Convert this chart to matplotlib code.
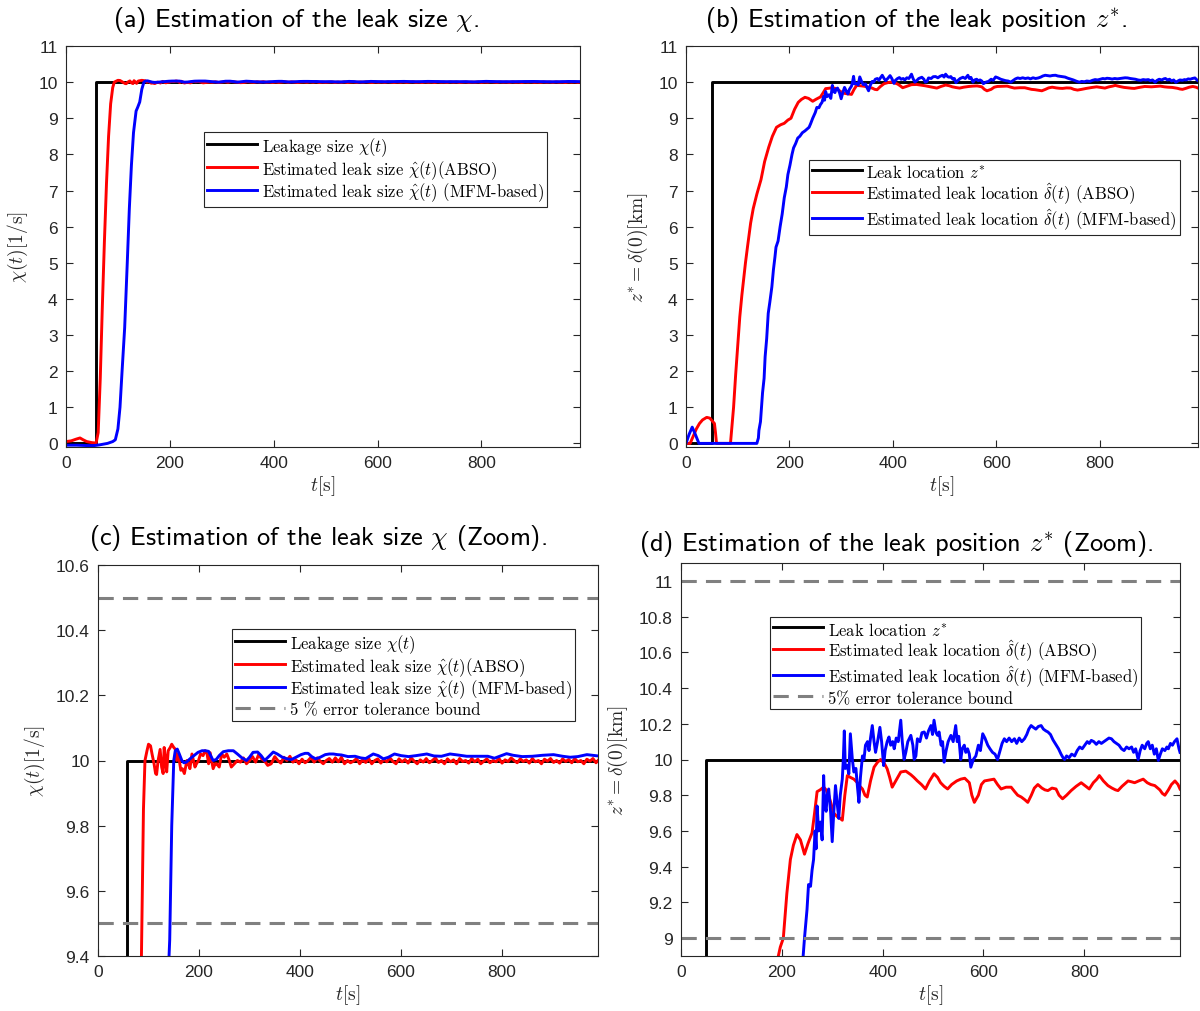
import matplotlib
matplotlib.use("Agg")
import matplotlib.pyplot as plt
from matplotlib.ticker import FuncFormatter

plt.rcParams['font.family'] = ['Liberation Sans', 'DejaVu Sans']
plt.rcParams['mathtext.fontset'] = 'cm'
plt.rcParams['axes.unicode_minus'] = False

# ---------------- data: leak size chi ----------------
t_chi_true = [0, 58, 990]
chi_true = [0, 10, 10]

t_chi_abso = [0, 10, 20, 27, 33, 40, 50, 58, 62, 66, 70, 74, 78, 82, 86, 90, 93, 97, 100, 104,
              107, 111, 114, 116, 119, 123, 126, 129, 131, 134, 136, 139, 143, 146, 150, 153, 156,
              159, 162, 164, 167, 171, 174, 176, 179, 182, 186, 189, 192, 195, 199, 203, 208, 212,
              216, 219, 222, 225, 228, 232, 235, 240, 245, 250, 255, 260, 264, 270, 276, 282, 288,
              294, 300, 306, 312, 318, 324, 330, 336, 343, 350, 356, 362, 368, 374, 380, 386, 392,
              398, 404, 410, 416, 422, 428, 434, 440, 446, 452, 458, 464, 470, 476, 482, 488, 494,
              500, 506, 512, 518, 524, 530, 536, 542, 548, 554, 560, 566, 572, 578, 584, 590, 596,
              602, 608, 614, 620, 626, 632, 638, 644, 650, 656, 662, 668, 674, 680, 686, 692, 698,
              704, 710, 716, 722, 728, 734, 740, 746, 752, 758, 764, 770, 776, 782, 788, 794, 800,
              806, 812, 818, 824, 830, 836, 842, 848, 854, 860, 866, 872, 878, 884, 890, 896, 902,
              908, 914, 920, 926, 932, 938, 944, 950, 956, 962, 968, 974, 980, 986, 990]
chi_abso = [0.05, 0.07, 0.12, 0.15, 0.10, 0.05, 0.02, 0.01, 0.3, 1.8, 3.8, 5.6, 7.2, 8.5, 9.4, 9.85,
            10.0, 10.03, 10.05, 10.045, 10.02, 9.99, 9.96, 9.957, 10.0, 10.034, 9.98, 9.96, 10.04,
            10.0, 9.965, 10.03, 10.04, 10.05, 10.04, 10.035, 10.0, 10.02, 9.99, 9.97, 9.975, 9.96,
            9.985, 10.0, 9.99, 9.975, 10.02, 10.0, 9.98, 9.99, 10.0, 10.02, 10.015, 10.03, 10.02,
            9.99, 10.024, 10.0, 9.975, 9.99, 9.99, 9.98, 10.02, 10.01, 10.02, 10.0, 9.98, 9.99,
            10.0, 9.995, 10.008, 9.99, 10.0, 10.012, 9.995, 10.018, 10.005, 9.998, 9.985, 9.99,
            10.012, 10.0, 9.992, 10.01, 10.0, 10.013, 9.995, 10.002, 9.99, 10.004, 9.993, 10.0,
            10.01, 9.995, 10.008, 9.998, 9.99, 10.0, 10.006, 9.995, 10.008, 9.996, 10.01, 9.99,
            10.0, 9.993, 9.998, 10.006, 9.99, 10.002, 9.994, 10.006, 9.99, 10.0, 10.005, 9.992,
            10.004, 9.996, 10.008, 9.997, 9.99, 10.005, 9.996, 10.003, 9.992, 10.008, 9.998, 9.99,
            10.002, 9.995, 10.006, 9.993, 10.0, 10.008, 9.994, 10.0, 9.99, 10.005, 9.996, 10.002,
            9.99, 10.006, 9.997, 10.0, 9.992, 10.006, 9.996, 10.004, 9.99, 9.998, 10.005, 9.993,
            10.0, 9.996, 10.006, 9.992, 10.002, 9.997, 10.008, 10.0, 9.993, 10.005, 9.997, 10.002,
            9.992, 10.006, 9.996, 10.0, 9.99, 10.004, 9.998, 10.006, 9.994, 10.0, 9.992, 10.005,
            9.997, 10.003, 9.993, 10.006, 9.996, 10.0, 9.99, 10.004, 9.998, 10.006, 9.993, 10.0]

t_chi_mfm = [0, 20, 40, 55, 65, 80, 90, 95, 100, 104, 108, 113, 118, 122, 126, 130, 135, 138, 142,
             146, 150, 153, 157, 161, 166, 170, 175, 182, 190, 198, 206, 213, 219, 224, 228, 234, 240,
             248, 258, 268, 276, 285, 294, 300, 307, 316, 323, 330, 338, 347, 355, 365, 375, 383,
             392, 402, 410, 416, 423, 431, 440, 450, 458, 466, 474, 482, 495, 509, 520, 530, 545,
             555, 565, 575, 587, 600, 615, 630, 651, 665, 680, 697, 712, 730, 750, 772, 785, 797,
             809, 822, 840, 860, 880, 902, 920, 935, 950, 968, 990]
chi_mfm = [-0.05, -0.05, -0.06, -0.06, -0.04, 0.0, 0.05, 0.1, 0.4, 1.0, 2.0, 3.2, 5.0, 6.5, 7.7, 8.6,
           9.2, 9.3, 9.45, 9.8, 10.0, 10.03, 10.035, 10.02, 10.0, 9.993, 9.995, 10.005, 10.015, 10.025,
           10.03, 10.03, 10.028, 10.012, 10.0, 10.003, 10.015, 10.027, 10.03, 10.03, 10.02, 10.008,
           10.0, 10.01, 10.025, 10.026, 10.015, 10.0, 10.012, 10.026, 10.02, 10.01, 10.005, 10.003,
           10.01, 10.018, 10.022, 10.022, 10.012, 10.005, 10.01, 10.018, 10.02, 10.02, 10.018,
           10.017, 10.012, 10.013, 10.008, 10.006, 10.02, 10.015, 10.005, 10.01, 10.02, 10.015,
           10.012, 10.015, 10.02, 10.014, 10.013, 10.02, 10.017, 10.013, 10.013, 10.013, 10.007,
           10.014, 10.021, 10.016, 10.012, 10.013, 10.016, 10.018, 10.013, 10.01, 10.012, 10.018,
           10.014]

chi_bounds = [10.5, 9.5]

# ---------------- data: leak position z* ----------------
t_z_true = [0, 50, 990]
z_true = [0, 10, 10]

t_z_abso = [0, 8, 14, 20, 26, 32, 40, 46, 52, 55, 57, 59, 86, 89, 92, 96, 100, 104, 108, 115, 119,
            125, 130, 137, 145, 152, 160, 167, 175, 183, 190, 197, 203, 210, 217, 223, 230, 237, 245,
            252, 260, 265, 270, 276, 283, 288, 293, 298, 303, 310, 316, 320, 325, 330, 336, 343, 350,
            355, 360, 365, 369.5, 376, 383, 390, 396, 403, 409, 414, 419, 426, 436, 446, 456, 462,
            469, 477, 485, 493, 502, 509, 515, 522, 529, 537, 547, 555, 563, 572, 577, 582, 590, 596,
            602, 612, 621, 628, 635, 645, 655, 662, 668, 675, 682, 688, 695, 701, 708, 716, 722, 728,
            736, 744, 750, 757, 765, 774, 784, 794, 803, 810, 818, 825, 830, 838, 847, 855, 862, 867,
            875, 887, 894, 900, 908, 917, 925, 932, 940, 950, 955, 960, 967, 973, 980, 986, 990]
z_abso = [0.0, 0.0, 0.2, 0.4, 0.55, 0.65, 0.72, 0.7, 0.6, 0.55, 0.3, 0.0, 0.0, 0.5, 1.0, 1.9, 2.7, 3.5,
          4.1, 5.0, 5.45, 6.1, 6.5, 6.9, 7.3, 7.8, 8.2, 8.5, 8.75, 8.82, 8.86, 8.95, 9.0, 9.25, 9.44,
          9.52, 9.58, 9.55, 9.47, 9.53, 9.59, 9.7, 9.82, 9.83, 9.845, 9.83, 9.80, 9.75, 9.70, 9.68,
          9.67, 9.66, 9.8, 9.91, 9.9, 9.89, 9.87, 9.85, 9.835, 9.8, 9.79, 9.88, 9.957, 9.985, 10.0,
          9.98, 9.948, 9.9, 9.845, 9.88, 9.93, 9.935, 9.915, 9.9, 9.88, 9.86, 9.835, 9.88, 9.92, 9.9,
          9.87, 9.85, 9.835, 9.86, 9.88, 9.89, 9.895, 9.87, 9.80, 9.76, 9.8, 9.86, 9.88, 9.885, 9.89,
          9.86, 9.835, 9.845, 9.845, 9.82, 9.80, 9.79, 9.775, 9.76, 9.80, 9.84, 9.86, 9.84, 9.83,
          9.826, 9.84, 9.835, 9.80, 9.78, 9.80, 9.826, 9.85, 9.87, 9.85, 9.835, 9.87, 9.89, 9.91,
          9.88, 9.854, 9.84, 9.83, 9.826, 9.85, 9.88, 9.875, 9.87, 9.88, 9.89, 9.87, 9.86, 9.854,
          9.83, 9.81, 9.80, 9.83, 9.86, 9.88, 9.86, 9.835]

t_z_mfm = [0, 6, 12, 18, 25, 137, 140, 141, 144, 148, 151, 153, 156, 159, 162, 166, 169, 172, 174, 178,
           182, 186, 190, 194, 197, 201, 205, 208, 212, 216, 220, 225, 230, 234, 238, 241, 245, 250,
           253, 257, 260, 263, 266, 268, 270, 273, 276.6, 280, 283, 285, 288, 290, 293, 297, 300, 303,
           306.5, 310, 313, 316, 320, 322, 324, 326, 330, 333, 336, 340, 343, 347, 350, 353, 356, 360,
           363, 366, 370, 373, 376, 379.5, 383, 386, 390, 394.6, 398, 402, 405, 409, 412.6, 416, 420,
           423, 427, 431, 436, 439, 442.6, 446, 450, 456, 460, 462.6, 466, 469, 474, 478, 482.6, 487,
           491, 495.8, 499, 502, 506, 509, 512, 516, 519, 522, 526, 530, 535.5, 540, 545, 548, 551,
           555, 558, 562, 565, 568.6, 572, 575, 580, 585, 590, 594, 598.6, 603, 608.6, 613, 618, 623,
           628, 633, 637, 641.5, 646, 651, 656, 661.5, 666, 671, 676, 681.4, 686, 690, 694.6, 699,
           704, 709, 714.5, 719, 724, 728, 733, 738, 744.5, 749, 754, 758, 761, 765, 770, 775, 781,
           786, 791, 796, 801, 806, 810, 814, 819, 824, 829, 834, 839, 844, 849, 854, 859, 864, 869,
           874, 879, 884, 889, 894, 898, 902, 907, 911, 915, 920, 924, 927, 931, 935, 939, 943, 947,
           951, 955, 960, 964, 967, 971, 975, 979, 984, 988, 990]
z_mfm = [0.0, 0.25, 0.45, 0.25, 0.0, 0.0, 0.15, 0.36, 0.6, 1.4, 1.8, 2.4, 2.9, 3.6, 3.9, 4.33, 4.8,
         5.16, 5.43, 5.6, 6.0, 6.35, 6.8, 7.1, 7.44, 7.7, 8.0, 8.18, 8.3, 8.45, 8.5, 8.6, 8.65, 8.7,
         8.75, 8.85, 9.0, 9.16, 9.3, 9.29, 9.38, 9.44, 9.6, 9.5, 9.74, 9.6, 9.65, 9.55, 9.91, 9.75,
         9.71, 9.8, 9.835, 9.7, 9.54, 9.7, 9.854, 9.75, 9.67, 9.8, 9.89, 10.0, 10.16, 9.95, 9.966,
         9.92, 10.144, 10.0, 9.93, 9.95, 9.85, 9.76, 9.9, 10.02, 10.0, 10.08, 10.1, 10.05, 10.12,
         10.19, 10.1, 10.04, 10.1, 10.18, 10.1, 9.966, 10.05, 10.1, 10.126, 10.08, 10.1, 10.06,
         10.12, 10.1, 10.22, 10.1, 10.0, 10.04, 10.1, 10.135, 10.08, 10.0, 10.02, 10.116, 10.1,
         10.15, 10.154, 10.12, 10.16, 10.19, 10.14, 10.22, 10.15, 10.135, 10.154, 10.08, 10.1,
         9.985, 10.05, 10.1, 10.135, 10.1, 10.19, 10.1, 10.13, 10.0, 10.06, 10.08, 10.04, 10.06,
         10.03, 9.957, 10.0, 10.02, 10.08, 10.05, 10.144, 10.12, 10.08, 10.06, 10.04, 10.03, 10.0,
         10.05, 10.09, 10.116, 10.1, 10.12, 10.1, 10.116, 10.09, 10.12, 10.1, 10.116, 10.14, 10.17,
         10.19, 10.18, 10.17, 10.185, 10.19, 10.17, 10.16, 10.154, 10.14, 10.11, 10.08, 10.06,
         10.03, 10.01, 10.0, 10.02, 10.01, 10.03, 10.02, 10.05, 10.07, 10.06, 10.08, 10.1, 10.09,
         10.107, 10.1, 10.085, 10.1, 10.09, 10.1, 10.11, 10.12, 10.116, 10.1, 10.09, 10.08, 10.06,
         10.05, 10.07, 10.06, 10.07, 10.04, 10.06, 10.0, 10.05, 10.08, 10.06, 10.09, 10.1, 10.06,
         10.08, 10.03, 10.06, 9.995, 10.03, 10.06, 10.05, 10.07, 10.06, 10.09, 10.08, 10.1, 10.116,
         10.06, 10.04]

z_bounds = [11.0, 9.0]

x_ticks = [0, 200, 400, 600, 800]

# ---------------- figure ----------------
fig = plt.figure(figsize=(12, 10.12), dpi=100)
H = 1012.0
W = 1200.0


def rect(l, r, t, b):
    return [l / W, 1 - b / H, (r - l) / W, (b - t) / H]


ax_a = fig.add_axes(rect(66, 580, 47, 448))
ax_b = fig.add_axes(rect(686, 1198, 47, 448))
ax_c = fig.add_axes(rect(98, 598, 566, 957))
ax_d = fig.add_axes(rect(681, 1180, 564, 957))

TXT = '#262626'
fmt = FuncFormatter(lambda v, p: ('%.1f' % v).rstrip('0').rstrip('.'))


def style(ax):
    ax.tick_params(direction='in', top=True, right=True, length=5, width=0.8,
                   colors=TXT, labelsize=12.5, pad=6)
    for s in ax.spines.values():
        s.set_color(TXT)
        s.set_linewidth(0.8)
    ax.set_xticks(x_ticks)
    ax.set_xlim(0, 990)
    ax.yaxis.set_major_formatter(fmt)
    ax.set_xlabel(r'$t[\mathrm{s}]$', fontsize=14, color=TXT, labelpad=2)


LW = 2.1
leg_font = {'family': 'cmr10', 'size': 12.0}
dash = (0, (5, 3))

# (a)
ax_a.plot(t_chi_true, chi_true, color='black', lw=LW, drawstyle='steps-post',
          label=r'Leakage size $\chi(t)$')
ax_a.plot(t_chi_abso, chi_abso, color='#ff0000', lw=LW, label=r'Estimated leak size $\hat{\chi}(t)$(ABSO)')
ax_a.plot(t_chi_mfm, chi_mfm, color='#0000ff', lw=LW, label=r'Estimated leak size $\hat{\chi}(t)$ (MFM-based)')
ax_a.set_ylim(-0.1, 11)
ax_a.set_yticks(range(0, 12))
style(ax_a)
ax_a.set_ylabel(r'$\chi(t)[1/\mathrm{s}]$', fontsize=14, color=TXT, labelpad=6)

# (b)
ax_b.plot(t_z_true, z_true, color='black', lw=LW, drawstyle='steps-post', label=r'Leak location $z^{*}$')
ax_b.plot(t_z_abso, z_abso, color='#ff0000', lw=LW, label=r'Estimated leak location $\hat{\delta}(t)$ (ABSO)')
ax_b.plot(t_z_mfm, z_mfm, color='#0000ff', lw=LW, label=r'Estimated leak location $\hat{\delta}(t)$ (MFM-based)')
ax_b.set_ylim(-0.1, 11)
ax_b.set_yticks(range(0, 12))
style(ax_b)
ax_b.set_ylabel(r'$z^{*}=\delta(0)[\mathrm{km}]$', fontsize=14, color=TXT, labelpad=6)

# (c)
ax_c.plot(t_chi_true, chi_true, color='black', lw=LW, drawstyle='steps-post',
          label=r'Leakage size $\chi(t)$')
ax_c.plot(t_chi_abso, chi_abso, color='#ff0000', lw=LW, label=r'Estimated leak size $\hat{\chi}(t)$(ABSO)')
ax_c.plot(t_chi_mfm, chi_mfm, color='#0000ff', lw=LW, label=r'Estimated leak size $\hat{\chi}(t)$ (MFM-based)')
for i, b in enumerate(chi_bounds):
    ax_c.axhline(b, color='#808080', lw=2.2, ls=dash,
                 label='5 % error tolerance bound' if i == 0 else None)
ax_c.set_ylim(9.4, 10.6)
ax_c.set_yticks([9.4, 9.6, 9.8, 10.0, 10.2, 10.4, 10.6])
style(ax_c)
ax_c.set_ylabel(r'$\chi(t)[1/\mathrm{s}]$', fontsize=14, color=TXT, labelpad=6)

# (d)
ax_d.plot(t_z_true, z_true, color='black', lw=LW, drawstyle='steps-post', label=r'Leak location $z^{*}$')
ax_d.plot(t_z_abso, z_abso, color='#ff0000', lw=LW, label=r'Estimated leak location $\hat{\delta}(t)$ (ABSO)')
ax_d.plot(t_z_mfm, z_mfm, color='#0000ff', lw=LW, label=r'Estimated leak location $\hat{\delta}(t)$ (MFM-based)')
for i, b in enumerate(z_bounds):
    ax_d.axhline(b, color='#808080', lw=2.2, ls=dash,
                 label='5% error tolerance bound' if i == 0 else None)
ax_d.set_ylim(8.9, 11.1)
ax_d.set_yticks([9.0, 9.2, 9.4, 9.6, 9.8, 10.0, 10.2, 10.4, 10.6, 10.8, 11.0])
style(ax_d)
ax_d.set_ylabel(r'$z^{*}=\delta(0)[\mathrm{km}]$', fontsize=14, color=TXT, labelpad=6)

# legends
for ax, (lx, ly) in [(ax_a, (204, 133)), (ax_b, (809, 161)), (ax_c, (232, 630)), (ax_d, (770, 618))]:
    leg = ax.legend(loc='upper left', bbox_to_anchor=(lx / W, 1 - ly / H), bbox_transform=fig.transFigure,
                    prop=leg_font, frameon=True, fancybox=False, borderaxespad=0, borderpad=0.2,
                    handlelength=3.0, handletextpad=0.25, handleheight=1.2, labelspacing=0.0,
                    framealpha=1)
    leg.get_frame().set_edgecolor(TXT)
    leg.get_frame().set_linewidth(0.8)

# titles
title_kw = dict(family='cmss10', fontsize=19, color='black', ha='center', va='center')
fig.text(296 / W, 1 - 20 / H, r'(a) Estimation of the leak size $\chi$.', **title_kw)
fig.text(916 / W, 1 - 20 / H, r'(b) Estimation of the leak position $z^{*}$.', **title_kw)
fig.text(318 / W, 1 - 538 / H, r'(c) Estimation of the leak size $\chi$ (Zoom).', **title_kw)
fig.text(896 / W, 1 - 544 / H, r'(d) Estimation of the leak position $z^{*}$ (Zoom).', **title_kw)

fig.savefig('out.png', dpi=100)
